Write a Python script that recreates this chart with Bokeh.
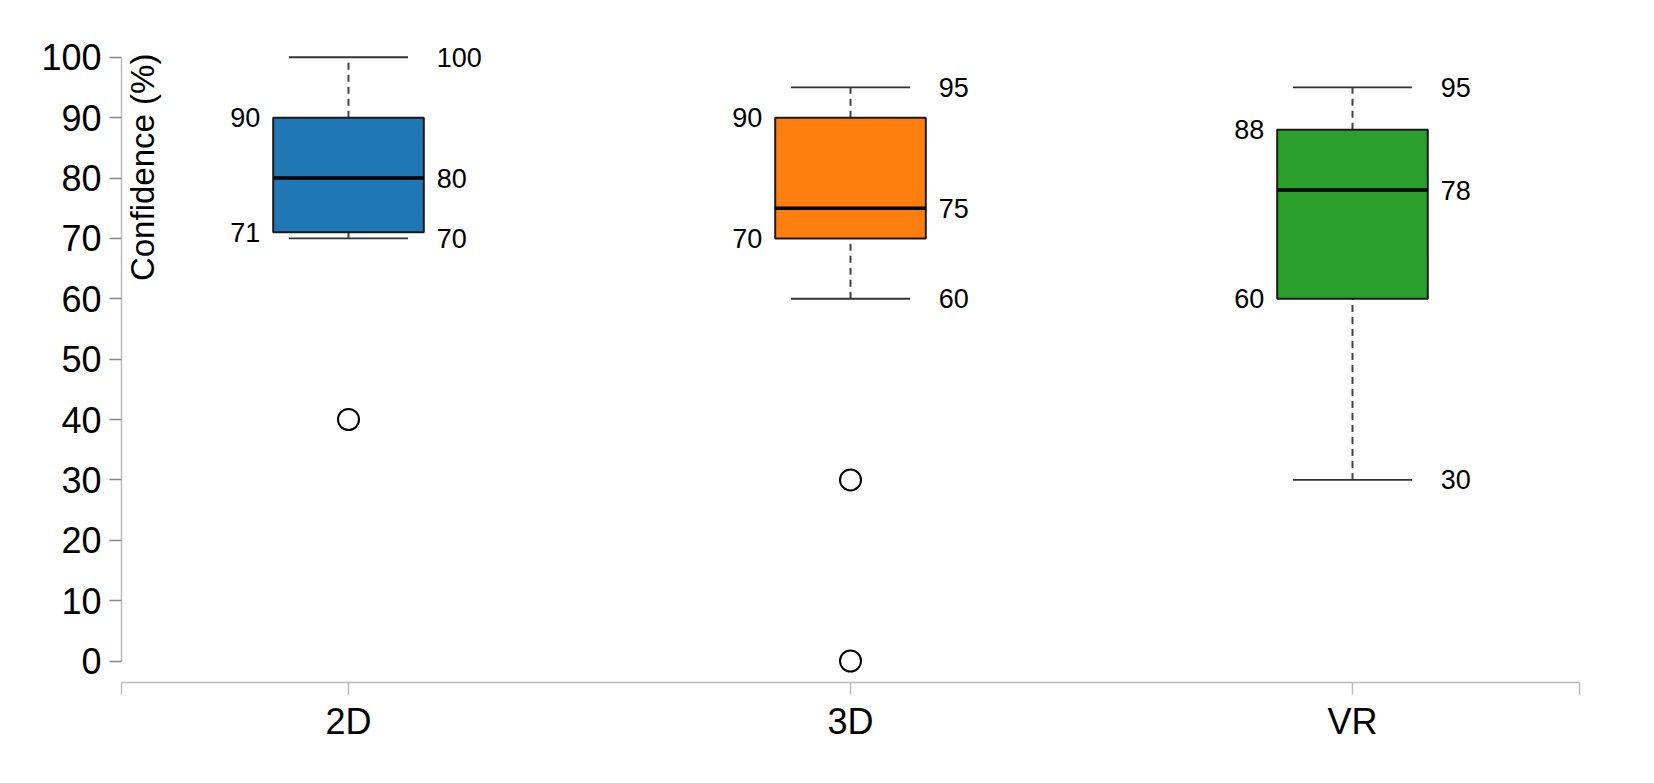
import math
from bokeh.plotting import figure
from bokeh.models import ColumnDataSource, FixedTicker, CustomJSTickFormatter, Label, Range1d
from bokeh.core.properties import value
from bokeh.embed import file_html
from bokeh.resources import INLINE

categories = ["2D", "3D", "VR"]
whisker_low = [70, 60, 30]
q1 = [71, 70, 60]
median = [80, 75, 78]
q3 = [90, 90, 88]
whisker_high = [100, 95, 95]
colors = ["#1f77b4", "#ff7f0e", "#2ca02c"]
outlier_cat = ["2D", "3D", "3D"]
outlier_val = [40, 30, 0]
y_ticks = [0, 10, 20, 30, 40, 50, 60, 70, 80, 90, 100]

FONT = "Liberation Sans"
xs = list(range(len(categories)))
BOX_HALF = 0.15
CAP_HALF = 0.1185

src = ColumnDataSource(dict(
    x=xs, left=[x - BOX_HALF for x in xs], right=[x + BOX_HALF for x in xs],
    cl=[x - CAP_HALF for x in xs], cr=[x + CAP_HALF for x in xs],
    lo=whisker_low, q1=q1, med=median, q3=q3, hi=whisker_high, color=colors,
    q1t=[str(v) for v in q1], q3t=[str(v) for v in q3],
    lot=[str(v) for v in whisker_low], medt=[str(v) for v in median],
    hit=[str(v) for v in whisker_high],
))

p = figure(width=1654, height=783, output_backend="svg", toolbar_location=None,
           x_range=Range1d(-0.4522, 2.4522), y_range=Range1d(-3.56, 109.4),
           min_border_left=121, min_border_right=75, min_border_top=0, min_border_bottom=101)
p.outline_line_color = None
p.xgrid.visible = False
p.ygrid.visible = False
p.background_fill_color = "white"
p.border_fill_color = "white"

# whisker stems
p.segment(x0="x", x1="x", y0="q3", y1="hi", source=src, line_color="#444444", line_width=2, line_dash="7 5")
p.segment(x0="x", x1="x", y0="lo", y1="q1", source=src, line_color="#444444", line_width=2, line_dash="7 5")
# caps
p.segment(x0="cl", x1="cr", y0="hi", y1="hi", source=src, line_color="#333333", line_width=1.8)
p.segment(x0="cl", x1="cr", y0="lo", y1="lo", source=src, line_color="#333333", line_width=1.8)
# boxes
p.quad(left="left", right="right", bottom="q1", top="q3", source=src, fill_color="color",
       line_color="#1a1a1a", line_width=2)
# median
p.segment(x0="left", x1="right", y0="med", y1="med", source=src, line_color="black", line_width=3.5)

# outliers
ox = [categories.index(c) for c in outlier_cat]
p.scatter(x=ox, y=outlier_val, marker="circle", size=21, fill_color="white",
          line_color="black", line_width=2)

# annotations
common = dict(source=src, text_font=value(FONT), text_font_size="27px",
              text_color="black", text_baseline="middle")
p.text(x="left", y="q3", text="q3t", text_align="right", x_offset=-13, **common)
p.text(x="left", y="q1", text="q1t", text_align="right", x_offset=-13, **common)
p.text(x="right", y="hi", text="hit", text_align="left", x_offset=13, **common)
p.text(x="right", y="med", text="medt", text_align="left", x_offset=13, **common)
p.text(x="right", y="lo", text="lot", text_align="left", x_offset=13, **common)

# y axis
ya = p.yaxis[0]
ya.ticker = FixedTicker(ticks=y_ticks)
ya.bounds = (0, 100)
ya.minor_tick_line_color = None
ya.major_tick_out = 12
ya.major_tick_in = 0
ya.major_label_standoff = 8
ya.axis_line_color = "#bbbbbb"
ya.axis_line_width = 1.5
ya.major_tick_line_color = "#888888"
ya.major_tick_line_width = 1.5
ya.major_label_text_font = FONT
ya.major_label_text_font_size = "36px"
ya.major_label_text_color = "black"

# x axis
xa = p.xaxis[0]
xa.ticker = FixedTicker(ticks=[-0.4522] + xs + [2.4522])
xa.formatter = CustomJSTickFormatter(args=dict(names=categories), code="""
    const i = Math.round(tick);
    if (Math.abs(tick - i) < 1e-6 && i >= 0 && i < names.length) { return names[i]; }
    return "";
""")
xa.minor_tick_line_color = None
xa.major_tick_out = 12
xa.major_tick_in = 0
xa.major_label_standoff = 6
xa.axis_line_color = "#bbbbbb"
xa.axis_line_width = 1.5
xa.major_tick_line_color = "#bbbbbb"
xa.major_tick_line_width = 1.5
xa.major_label_text_font = FONT
xa.major_label_text_font_size = "36px"
xa.major_label_text_color = "black"

# y axis title inside plot
lab = Label(x=-0.4522 + 40.0 / 502, y=100.6, text="Confidence (%)", angle=math.pi / 2,
            text_align="right", text_baseline="bottom", text_font=FONT,
            text_font_size="33px", text_color="black")
p.add_layout(lab)

open("out.html", "w").write(file_html(p, INLINE))
